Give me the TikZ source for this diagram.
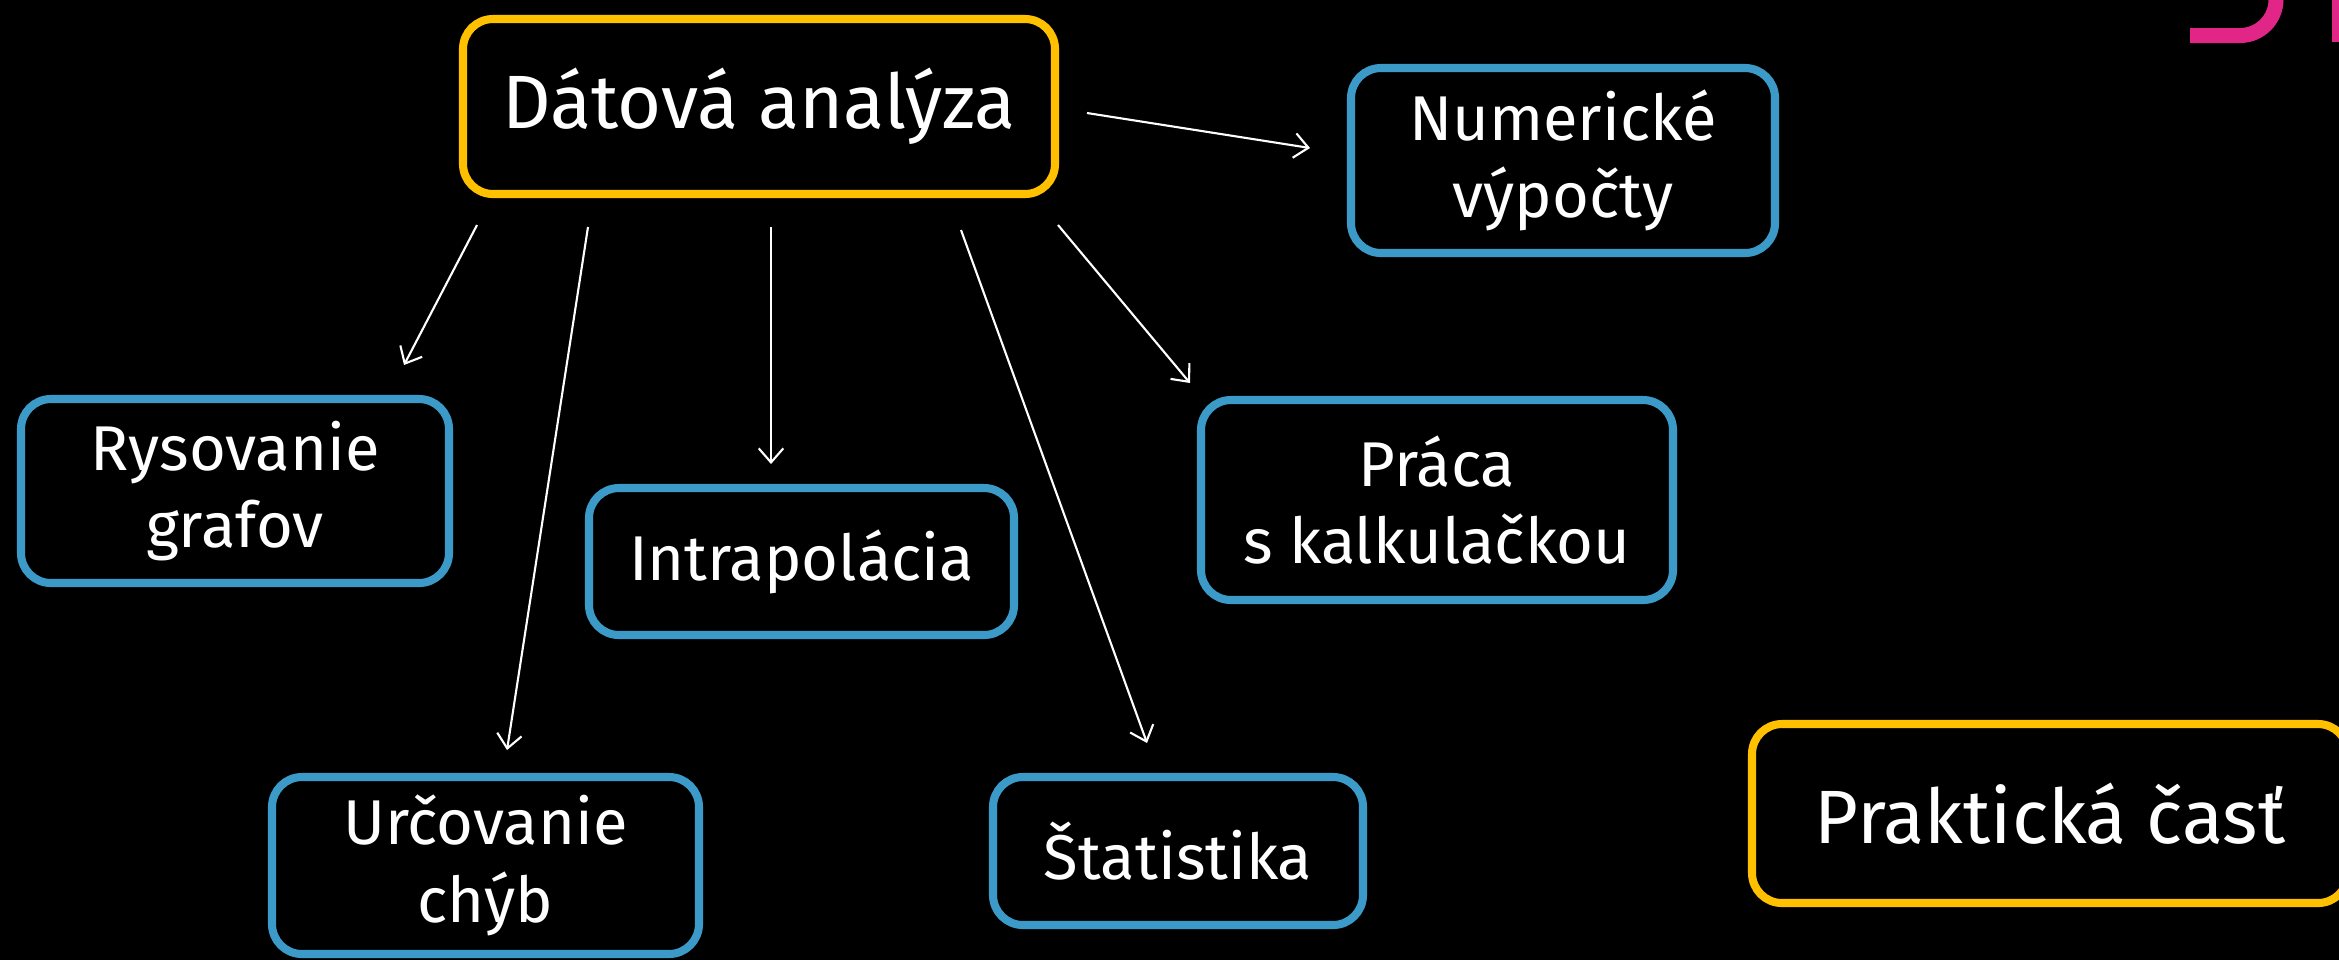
\documentclass[tikz,border=0pt]{standalone}
\usepackage{fontspec}
\setmainfont{Fira Sans}
\usetikzlibrary{%
  arrows.meta,%
  positioning%
}

\definecolor{boxgelb}{RGB}{255,192,0}
\definecolor{boxblau}{RGB}{59,154,200}
\definecolor{titelrot}{RGB}{226,38,135}

\begin{document}
\begin{tikzpicture}
 \useasboundingbox (0,0) rectangle (23.39,-9.6);
 \fill[black] (0,0) rectangle (23.39,-9.6);
 \clip (0,0) rectangle (23.39,-9.6);
 \begin{scope}[thin,white,
   box/.style={draw,line width=2.3pt,rounded corners=0.3cm,text=white,align=center,inner sep=0pt,font=\fontsize{18}{22}\selectfont},
   gelb/.style={box,draw=boxgelb,font=\fontsize{21.5}{26}\selectfont},
   blau/.style={box,draw=boxblau},
   pfeil/.style={-{Straight Barb[length=4pt,width=7pt]},line width=0.6pt}]
   %Reste vom Titel (oben abgeschnitten)
   \draw[titelrot,line width=0.15cm] (21.9,-0.355) -- (22.40,-0.355) arc[start angle=-90,end angle=0,radius=0.36] -- (22.76,0.1);
   \fill[titelrot] (23.32,0.1) rectangle (23.5,-0.42);

   \node[gelb,minimum width=5.92cm,minimum height=1.75cm] (da) at (7.59,-1.065) {Dátová analýza};
   \node[gelb,minimum width=5.96cm,minimum height=1.79cm] (pc) at (20.50,-8.135) {Praktická časť};

   \node[blau,minimum width=4.24cm,minimum height=1.85cm] (nv) at (15.63,-1.605) {Numerické\\výpočty};
   \node[blau,minimum width=4.28cm,minimum height=1.84cm] (rg) at (2.35,-4.91) {Rysovanie\\grafov};
   \node[blau,minimum width=4.25cm,minimum height=1.47cm] (ip) at (8.015,-5.615) {Intrapolácia};
   \node[blau,minimum width=4.72cm,minimum height=2.00cm] (pk) at (14.37,-5.0) {Práca\\s kalkulačkou};
   \node[blau,minimum width=4.27cm,minimum height=1.77cm] (uc) at (4.855,-8.655) {Určovanie\\chýb};
   \node[blau,minimum width=3.70cm,minimum height=1.48cm] (st) at (11.78,-8.51) {Štatistika};

   \coordinate (nv1) at (10.87,-1.13);
   \coordinate (nv2) at (13.10,-1.48);
   \coordinate (rg1) at (4.77,-2.25);
   \coordinate (rg2) at (4.04,-3.65);
   \coordinate (uc1) at (5.88,-2.27);
   \coordinate (uc2) at (5.07,-7.50);
   \coordinate (ip1) at (7.71,-2.27);
   \coordinate (ip2) at (7.71,-4.64);
   \coordinate (st1) at (9.61,-2.30);
   \coordinate (st2) at (11.47,-7.43);
   \coordinate (pk1) at (10.58,-2.25);
   \coordinate (pk2) at (11.90,-3.83);

   \draw[pfeil] (nv1) -- (nv2);
   \draw[pfeil] (rg1) -- (rg2);
   \draw[pfeil] (uc1) -- (uc2);
   \draw[pfeil] (ip1) -- (ip2);
   \draw[pfeil] (st1) -- (st2);
   \draw[pfeil] (pk1) -- (pk2);
 \end{scope}
\end{tikzpicture}
\end{document}
